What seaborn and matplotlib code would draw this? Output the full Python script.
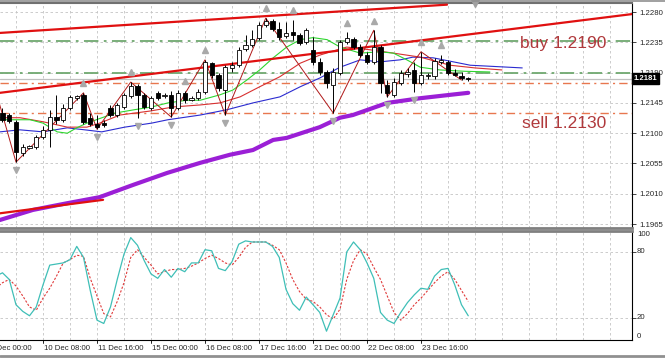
import matplotlib
matplotlib.use("Agg")
import matplotlib.pyplot as plt
import matplotlib.transforms as mtransforms
from matplotlib.lines import Line2D
import seaborn as sns

# ---- data (H4 bars, bar 0 = 9 Dec 00:00) ----
bar_idx = list(range(2, 72))
opens = [1.2130, 1.2127, 1.2117, 1.2071, 1.2078, 1.2080, 1.2094, 1.2105, 1.2124, 1.2120,
         1.2138, 1.2152, 1.2157, 1.2123, 1.2114, 1.2115, 1.2138, 1.2127, 1.2139, 1.2155,
         1.2170, 1.2157, 1.2138, 1.2160, 1.2155, 1.2157, 1.2138, 1.2160, 1.2149, 1.2152,
         1.2161, 1.2204, 1.2187, 1.2164, 1.2197, 1.2201, 1.2225, 1.2231, 1.2242, 1.2261,
         1.2267, 1.2255, 1.2245, 1.2250, 1.2246, 1.2236, 1.2224, 1.2206, 1.2191, 1.2172,
         1.2190, 1.2236, 1.2240, 1.2228, 1.2216, 1.2206, 1.2228, 1.2172, 1.2157, 1.2175,
         1.2188, 1.2194, 1.2175, 1.2185, 1.2185, 1.2206, 1.2206, 1.2190, 1.2185, 1.2182]
highs = [1.2138, 1.2130, 1.2120, 1.2084, 1.2083, 1.2097, 1.2111, 1.2135, 1.2157, 1.2143,
         1.2157, 1.2157, 1.2160, 1.2130, 1.2127, 1.2120, 1.2142, 1.2145, 1.2160, 1.2176,
         1.2173, 1.2160, 1.2155, 1.2163, 1.2160, 1.2163, 1.2164, 1.2163, 1.2155, 1.2166,
         1.2209, 1.2206, 1.2190, 1.2201, 1.2206, 1.2228, 1.2246, 1.2253, 1.2265, 1.2271,
         1.2270, 1.2265, 1.2265, 1.2268, 1.2249, 1.2256, 1.2243, 1.2212, 1.2194, 1.2197,
         1.2239, 1.2250, 1.2243, 1.2233, 1.2221, 1.2253, 1.2231, 1.2179, 1.2182, 1.2194,
         1.2197, 1.2206, 1.2221, 1.2190, 1.2212, 1.2216, 1.2209, 1.2195, 1.2191, 1.2184]
lows = [1.2117, 1.2115, 1.2057, 1.2066, 1.2077, 1.2077, 1.2091, 1.2080, 1.2114, 1.2117,
        1.2135, 1.2149, 1.2114, 1.2111, 1.2106, 1.2109, 1.2124, 1.2124, 1.2136, 1.2152,
        1.2123, 1.2136, 1.2135, 1.2149, 1.2152, 1.2124, 1.2135, 1.2145, 1.2148, 1.2149,
        1.2158, 1.2182, 1.2163, 1.2127, 1.2191, 1.2198, 1.2222, 1.2228, 1.2239, 1.2258,
        1.2252, 1.2239, 1.2242, 1.2239, 1.2231, 1.2233, 1.2201, 1.2187, 1.2167, 1.2130,
        1.2187, 1.2233, 1.2225, 1.2213, 1.2203, 1.2203, 1.2160, 1.2154, 1.2154, 1.2172,
        1.2184, 1.2161, 1.2172, 1.2181, 1.2181, 1.2203, 1.2187, 1.2185, 1.2179, 1.2178]
closes = [1.2120, 1.2118, 1.2072, 1.2080, 1.2081, 1.2094, 1.2105, 1.2124, 1.2120, 1.2138,
          1.2154, 1.2155, 1.2117, 1.2114, 1.2109, 1.2112, 1.2127, 1.2142, 1.2157, 1.2170,
          1.2157, 1.2139, 1.2152, 1.2152, 1.2157, 1.2138, 1.2160, 1.2149, 1.2152, 1.2161,
          1.2206, 1.2187, 1.2167, 1.2198, 1.2201, 1.2224, 1.2231, 1.2240, 1.2261, 1.2267,
          1.2255, 1.2243, 1.2249, 1.2246, 1.2234, 1.2253, 1.2206, 1.2191, 1.2175, 1.2191,
          1.2236, 1.2242, 1.2228, 1.2216, 1.2206, 1.2228, 1.2175, 1.2160, 1.2176, 1.2190,
          1.2191, 1.2175, 1.2187, 1.2187, 1.2207, 1.2209, 1.2190, 1.2187, 1.2182, 1.2181]

# Alligator (shifted forward) and long MA, read at sample bars
jaw_x = [1.6, 4.6, 8.0, 11.6, 14.2, 16.7, 20.1, 24.1, 26.5, 31.3, 35.3, 39.1, 43.1, 46.1,
         49.0, 52.0, 55.0, 57.9, 60.9, 62.8, 65.8, 71.3, 79.0]
jaw_y = [1.2102, 1.2105, 1.2102, 1.2108, 1.2105, 1.2102, 1.2109, 1.2115, 1.2120, 1.2127,
         1.2135, 1.2145, 1.2154, 1.2169, 1.2182, 1.2198, 1.2209, 1.2206, 1.2209, 1.2213,
         1.2212, 1.2201, 1.2197]
teeth_x = [1.6, 4.6, 8.0, 11.6, 14.5, 16.4, 19.4, 23.9, 27.3, 31.3, 34.2, 37.2, 40.1, 43.1,
           46.1, 49.0, 51.6, 53.0, 56.4, 59.9, 63.9, 68.3, 72.0, 76.0]
teeth_y = [1.2123, 1.2123, 1.2117, 1.2109, 1.2109, 1.2115, 1.2127, 1.2133, 1.2139, 1.2142,
           1.2145, 1.2154, 1.2169, 1.2184, 1.2204, 1.2216, 1.2224, 1.2228, 1.2224, 1.2219,
           1.2213, 1.2201, 1.2197, 1.2194]
lips_x = [1.6, 6.1, 8.0, 10.1, 11.6, 13.0, 14.5, 18.7, 21.6, 24.1, 26.5, 29.3, 31.3, 34.2,
          36.1, 38.2, 40.1, 42.1, 44.1, 46.1, 48.0, 50.1, 52.0, 55.0, 57.9, 59.9, 61.9,
          63.9, 66.8, 70.5, 74.2]
lips_y = [1.2120, 1.2120, 1.2115, 1.2102, 1.2100, 1.2108, 1.2115, 1.2130, 1.2135, 1.2139,
          1.2145, 1.2149, 1.2149, 1.2157, 1.2164, 1.2179, 1.2194, 1.2212, 1.2228, 1.2239,
          1.2242, 1.2239, 1.2228, 1.2219, 1.2221, 1.2219, 1.2209, 1.2198, 1.2194, 1.2192,
          1.2191]
ma_long_x = [1.6, 6.5, 11.6, 16.4, 21.3, 26.4, 31.3, 35.7, 39.1, 42.1, 44.1, 49.0, 52.0,
             53.9, 59.0, 63.9, 68.3, 71.0]
ma_long_y = [1.1971, 1.1986, 1.1996, 1.2005, 1.2023, 1.2041, 1.2056, 1.2068, 1.2075, 1.2090,
             1.2093, 1.2109, 1.2123, 1.2127, 1.2145, 1.2152, 1.2157, 1.2160]

# zigzag swing points
zz_x = [1, 4, 14, 16, 21, 27, 32, 35, 41, 51, 57, 59, 64, 70]
zz_y = [1.2163, 1.2057, 1.2160, 1.2106, 1.2176, 1.2124, 1.2209, 1.2127, 1.2271, 1.2130,
        1.2253, 1.2154, 1.2221, 1.2179]

# fractal bars
fractal_up = [14, 21, 29, 32, 41, 45, 53, 57, 64, 67]
fractal_down = [4, 16, 22, 27, 35, 51, 59, 63]

# trend lines (bar, price) pairs
trend_top = ([1.63, 67.85], [1.2249, 1.2291])
trend_mid = ([1.63, 95.26], [1.2160, 1.2277])
trend_low = ([1.63, 16.9], [1.1981, 1.2001])

# horizontal levels
green_levels = [1.2237, 1.2190]
orange_levels = [1.2175, 1.2130]
last_price = 1.2181

# stochastic, bars 1..71
stoch_x = list(range(1, 72))
stoch_k = [58, 61, 55, 32, 26, 22, 30, 50, 68, 69, 70, 73, 85, 75, 45, 18, 15, 30, 55, 78,
           93, 86, 72, 60, 56, 64, 57, 65, 62, 70, 70, 82, 81, 65, 63, 71, 87, 90, 89, 89,
           89, 85, 75, 46, 33, 27, 39, 32, 25, 8, 23, 38, 80, 89, 82, 70, 56, 25, 18, 15,
           25, 34, 41, 47, 46, 58, 64, 65, 50, 32, 22]
stoch_d = [47, 52, 55, 49, 40, 30, 27, 38, 47, 58, 70, 73, 77, 76, 56, 40, 24, 21, 35, 52,
           75, 82, 75, 68, 60, 62, 64, 64, 65, 67, 70, 74, 77, 74, 70, 68, 75, 84, 89, 89,
           89, 86, 82, 70, 55, 44, 37, 35, 30, 23, 19, 28, 55, 72, 82, 78, 66, 55, 40, 25,
           18, 24, 32, 38, 45, 52, 58, 62, 55, 45, 35]

price_ticks = [1.2280, 1.2235, 1.2190, 1.2145, 1.2100, 1.2055, 1.2010, 1.1965]
stoch_ticks = [0, 20, 80, 100]
date_ticks = [0, 8, 16, 24, 32, 40, 48, 56, 64]
date_labels = ["9 Dec 00:00", "10 Dec 08:00", "11 Dec 16:00", "15 Dec 00:00", "16 Dec 08:00",
               "17 Dec 16:00", "21 Dec 00:00", "22 Dec 08:00", "23 Dec 16:00"]

sns.set_style("white")
plt.rcParams['font.family'] = ['Liberation Sans', 'DejaVu Sans']

fig = plt.figure(figsize=(6.65, 3.63), dpi=100)
ax = fig.add_axes([0, 0.372, 0.9504, 0.6198])
ax2 = fig.add_axes([0, 0.0634, 0.9504, 0.3003])

XLIM = (1.63, 95.26)
YLIM = (1.19592, 1.22935)
grid_kw = dict(color="#c4c4c4", linestyle=(0, (3, 3)), linewidth=0.6)

# ---- main price panel ----
for lv in green_levels:
    ax.axhline(lv, color="#6fa86f", lw=1.3, linestyle=(0, (8, 3, 1.5, 3)), zorder=1)
for lv in orange_levels:
    ax.axhline(lv, color="#e8774f", lw=1.0, linestyle=(0, (6, 3, 1.5, 3)), zorder=1)
ax.axhline(last_price, color="#c0c0c0", lw=0.9, zorder=1)

sns.lineplot(x=ma_long_x, y=ma_long_y, ax=ax, color="#9b1fd6", lw=3.0,
             estimator=None, sort=False, zorder=2)
sns.lineplot(x=jaw_x, y=jaw_y, ax=ax, color="#2b2bd0", lw=0.8,
             estimator=None, sort=False, zorder=2)
sns.lineplot(x=teeth_x, y=teeth_y, ax=ax, color="#d83030", lw=0.8,
             estimator=None, sort=False, zorder=2)
sns.lineplot(x=lips_x, y=lips_y, ax=ax, color="#2ed62e", lw=0.8,
             estimator=None, sort=False, zorder=2)

for tx, ty in (trend_top, trend_mid, trend_low):
    ax.plot(tx, ty, color="#e01010", lw=1.6, zorder=3)

sns.lineplot(x=zz_x, y=zz_y, ax=ax, color="#b01818", lw=0.7,
             estimator=None, sort=False, zorder=4)

# candles
ax.vlines(bar_idx, lows, highs, color="black", lw=0.7, zorder=5)
for i, o, c in zip(bar_idx, opens, closes):
    up = c >= o
    ax.bar(i, max(abs(c - o), 0.00003), bottom=min(o, c), width=0.62,
           color="white" if up else "black", edgecolor="black", linewidth=0.6, zorder=6)

# fractals
hi_map = dict(zip(bar_idx, highs))
lo_map = dict(zip(bar_idx, lows))
up_tr = mtransforms.offset_copy(ax.transData, fig=fig, x=0, y=7, units="points")
dn_tr = mtransforms.offset_copy(ax.transData, fig=fig, x=0, y=-6, units="points")
ax.plot(fractal_up, [hi_map[b] for b in fractal_up], linestyle="none", marker="^",
        ms=4.5, color="#a9a9a9", transform=up_tr, zorder=7, clip_on=False)
ax.plot(fractal_down, [lo_map[b] for b in fractal_down], linestyle="none", marker="v",
        ms=4.5, color="#a9a9a9", transform=dn_tr, zorder=7, clip_on=False)

# chart shift marker
ax.plot([72], [1.0], transform=mtransforms.blended_transform_factory(ax.transData, ax.transAxes),
        marker="v", ms=6, color="#a0a0a0", clip_on=False, zorder=8)

ax.text(78.7, 1.2234, "buy 1.2190", fontsize=12.5, color="#b0393c", va="center", ha="left", zorder=9)
ax.text(79.0, 1.2115, "sell 1.2130", fontsize=12.5, color="#b0393c", va="center", ha="left", zorder=9)

ax.text(1.003, last_price, f"{last_price:.4f}",
        transform=mtransforms.blended_transform_factory(ax.transAxes, ax.transData),
        fontsize=5.6, fontweight="bold", color="white", va="center", ha="left", zorder=10,
        bbox=dict(boxstyle="square,pad=0.25", fc="black", ec="black"), clip_on=False)

# ---- stochastic panel ----
sns.lineplot(x=stoch_x, y=stoch_d, ax=ax2, color="#e03a3a", lw=0.8,
             linestyle=(0, (2, 1.5)), estimator=None, sort=False)
sns.lineplot(x=stoch_x, y=stoch_k, ax=ax2, color="#3fbfb7", lw=0.9,
             estimator=None, sort=False)

# ---- axes styling (after plotting so nothing rescales) ----
for a in (ax, ax2):
    a.set_xlabel("")
    a.set_ylabel("")
    a.set_xticks(range(0, 96, 8))
    a.set_xticks(range(4, 96, 8), minor=True)
    a.tick_params(axis="x", which="both", length=0, labelbottom=False)
    a.grid(True, axis="x", which="both", **grid_kw)
    a.set_axisbelow(True)
    a.spines["left"].set_visible(False)
    a.spines["right"].set_color("black")
    a.spines["right"].set_linewidth(0.8)
    a.yaxis.tick_right()
    a.set_xlim(*XLIM)

ax.set_ylim(*YLIM)
ax.set_yticks(price_ticks)
ax.set_yticklabels([f"{p:.4f}" for p in price_ticks], fontsize=5.6)
ax.tick_params(axis="y", length=3, width=0.6, pad=2, right=True)
ax.grid(True, axis="y", **grid_kw)
ax.spines["top"].set_color("#707070")
ax.spines["top"].set_linewidth(1.5)
ax.spines["bottom"].set_color("#808080")
ax.spines["bottom"].set_linewidth(2.0)

ax2.set_ylim(0, 99)
ax2.set_yticks([20, 80])
ax2.set_yticklabels([])
ax2.tick_params(axis="y", length=3, width=0.6, right=True)
ax2.grid(True, axis="y", **grid_kw)
ytr = mtransforms.blended_transform_factory(ax2.transAxes, ax2.transData)
for v in stoch_ticks:
    va = "bottom" if v == 0 else ("top" if v == 100 else "center")
    ax2.text(1.008, min(v, 99), str(v), transform=ytr, fontsize=5.6, va=va, ha="left")
ax2.spines["top"].set_color("#808080")
ax2.spines["top"].set_linewidth(2.0)
ax2.spines["bottom"].set_color("black")
ax2.spines["bottom"].set_linewidth(0.8)

# date ticks and labels
xtr = mtransforms.blended_transform_factory(ax2.transData, ax2.transAxes)
for t, lab in zip(date_ticks, date_labels):
    ax2.plot([t, t], [0, -0.03], transform=xtr, color="black", lw=0.6, clip_on=False)
    ax2.text(t + 0.15, -0.05, lab, transform=xtr, fontsize=5.6, va="top", ha="left", clip_on=False)
ax2.set_xlim(*XLIM)

# outer frame lines
fig.add_artist(Line2D([0, 1], [0.997, 0.997], color="#909090", lw=1.2))
fig.add_artist(Line2D([0, 1], [0.018, 0.018], color="#909090", lw=2.0))

fig.savefig("out.png", dpi=100, facecolor="white")
